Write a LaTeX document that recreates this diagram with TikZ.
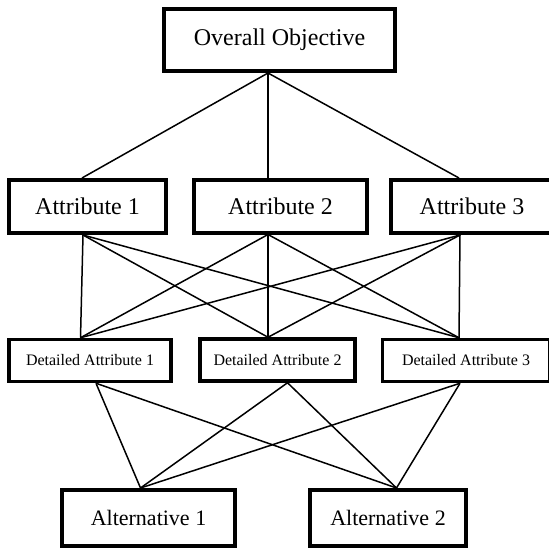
\documentclass[tikz,border=0pt]{standalone}
\usepackage{fontspec}
\setmainfont{Liberation Serif}

\begin{document}
\begin{tikzpicture}[
    x=1pt, y=-1pt,
    box/.style={rectangle, draw, line width=4pt, text centered, inner sep=0pt},
    goal/.style={box, minimum width=231pt, minimum height=62pt, font=\fontsize{24}{28}\selectfont},
    attr/.style={box, minimum height=53pt, font=\fontsize{24}{28}\selectfont},
    detail/.style={box, line width=3.5pt, minimum height=42pt, font=\fontsize{16}{19}\selectfont},
    alt/.style={box, minimum height=56pt, font=\fontsize{22}{26}\selectfont},
    link/.style={line width=1.5pt}
]
    \clip (0,0) rectangle (549,552);

    % Goal
    \node[goal] (obj) at (279.5,40) {Overall Objective};

    % Attributes
    \node[attr, minimum width=157pt] (a1) at (87.5,206.5) {Attribute 1};
    \node[attr, minimum width=173pt] (a2) at (280.5,206) {Attribute 2};
    \node[attr, minimum width=162pt] (a3) at (472,206.5) {Attribute 3};

    % Detailed attributes
    \node[detail, minimum width=162pt] (d1) at (90,360.5) {Detailed Attribute 1};
    \node[detail, minimum width=155pt] (d2) at (277.5,360) {Detailed Attribute 2};
    \node[detail, minimum width=167pt] (d3) at (466,360.5) {Detailed Attribute 3};

    % Alternatives
    \node[alt, minimum width=173pt] (alt1) at (148.5,518) {Alternative 1};
    \node[alt, minimum width=156pt] (alt2) at (388,518) {Alternative 2};

    % Joints
    \coordinate (obj-s) at ([xshift=-11.5pt]obj.south);
    \coordinate (a1-n) at ([xshift=-5.5pt]a1.north);
    \coordinate (a2-n) at ([xshift=-12.5pt]a2.north);
    \coordinate (a3-n) at ([xshift=-13pt]a3.north);
    \coordinate (a1-s) at ([xshift=-4.5pt]a1.south);
    \coordinate (a2-s) at ([xshift=-12.5pt]a2.south);
    \coordinate (a3-s) at ([xshift=-12pt]a3.south);
    \coordinate (d1-n) at ([xshift=-9.5pt]d1.north);
    \coordinate (d2-n) at ([xshift=-9.5pt]d2.north);
    \coordinate (d3-n) at ([xshift=-7pt]d3.north);
    \coordinate (d1-s) at ([xshift=6pt]d1.south);
    \coordinate (d2-s) at ([xshift=10pt]d2.south);
    \coordinate (d3-s) at ([xshift=-6pt]d3.south);
    \coordinate (alt1-n) at ([xshift=-8pt]alt1.north);
    \coordinate (alt2-n) at ([xshift=8.5pt]alt2.north);

    % Links
    \draw[link] (obj-s) -- (a1-n);
    \draw[link] (obj-s) -- (a2-n);
    \draw[link] (obj-s) -- (a3-n);

    \draw[link] (a1-s) -- (d1-n);
    \draw[link] (a1-s) -- (d2-n);
    \draw[link] (a1-s) -- (d3-n);
    \draw[link] (a2-s) -- (d1-n);
    \draw[link] (a2-s) -- (d2-n);
    \draw[link] (a2-s) -- (d3-n);
    \draw[link] (a3-s) -- (d1-n);
    \draw[link] (a3-s) -- (d2-n);
    \draw[link] (a3-s) -- (d3-n);

    \draw[link] (d1-s) -- (alt1-n);
    \draw[link] (d1-s) -- (alt2-n);
    \draw[link] (d2-s) -- (alt1-n);
    \draw[link] (d2-s) -- (alt2-n);
    \draw[link] (d3-s) -- (alt1-n);
    \draw[link] (d3-s) -- (alt2-n);

\end{tikzpicture}
\end{document}
